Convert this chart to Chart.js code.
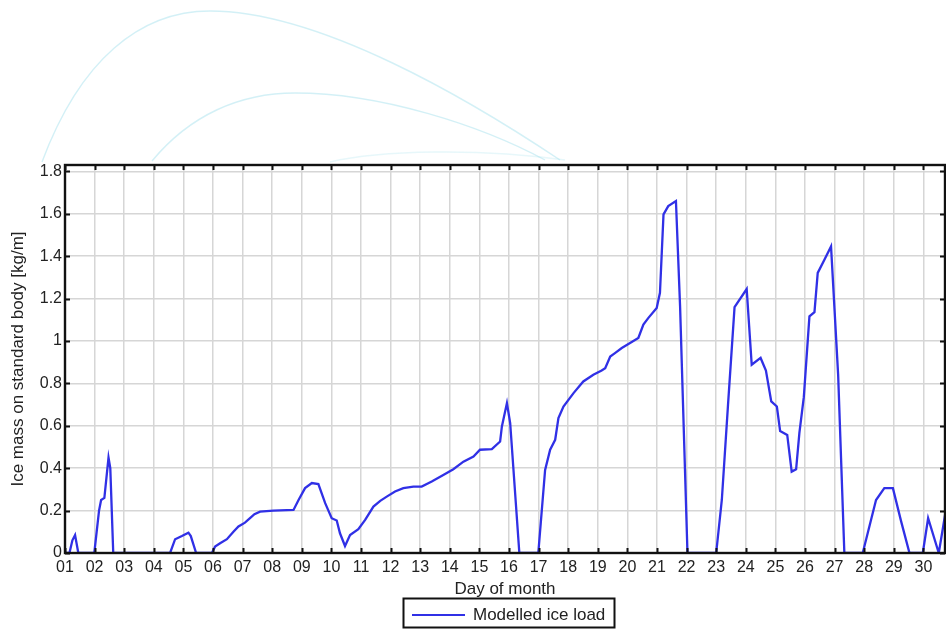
<!DOCTYPE html>
<html>
<head>
<meta charset="utf-8">
<script src="https://cdn.jsdelivr.net/npm/chart.js@4/dist/chart.umd.min.js"></script>
<style>
  html, body { margin: 0; padding: 0; background: #fff; }
  canvas { display: block; }
</style>
</head>
<body>
<canvas id="ice" width="946" height="629"></canvas>
<script>
// Modelled ice load on a standard body over one month (day of month, kg/m)
const dayOfMonth = [
  1.00, 1.15, 1.25, 1.34, 1.45, 1.99, 2.15, 2.22, 2.33, 2.47, 2.53, 2.63,
  4.55, 4.72, 4.95, 5.17, 5.25, 5.43, 5.96, 6.07, 6.24, 6.47, 6.69, 6.86,
  7.08, 7.25, 7.40, 7.59, 8.04, 8.72, 8.89, 9.11, 9.34, 9.56, 9.79, 10.01,
  10.18, 10.29, 10.46, 10.63, 10.91, 11.14, 11.42, 11.65, 11.87, 12.15, 12.43, 12.77,
  13.05, 13.39, 13.78, 14.12, 14.46, 14.80, 15.02, 15.42, 15.70, 15.76, 15.93, 16.04,
  16.35, 16.99, 17.22, 17.39, 17.56, 17.67, 17.84, 18.18, 18.51, 18.85, 19.13, 19.25,
  19.42, 19.58, 19.81, 20.09, 20.37, 20.54, 20.71, 20.99, 21.10, 21.22, 21.38, 21.64,
  21.78, 22.03, 23.00, 23.19, 23.40, 23.62, 24.03, 24.20, 24.50, 24.68, 24.86, 25.05,
  25.16, 25.40, 25.55, 25.70, 25.81, 25.96, 26.15, 26.32, 26.43, 26.66, 26.88, 27.12,
  27.33, 27.95, 28.40, 28.68, 28.97, 29.25, 29.53, 29.98, 30.16, 30.52, 30.78
];
const iceLoad = [
  0, 0, 0.06, 0.085, 0, 0, 0.20, 0.25, 0.26, 0.45, 0.40, 0,
  0, 0.065, 0.08, 0.096, 0.08, 0, 0, 0.03, 0.046, 0.065, 0.10, 0.125,
  0.143, 0.164, 0.183, 0.195, 0.20, 0.203, 0.25, 0.306, 0.33, 0.325, 0.235, 0.164,
  0.153, 0.093, 0.033, 0.085, 0.112, 0.156, 0.219, 0.246, 0.266, 0.29, 0.306, 0.313,
  0.313, 0.337, 0.368, 0.395, 0.431, 0.455, 0.487, 0.49, 0.526, 0.597, 0.707, 0.613,
  0, 0, 0.392, 0.487, 0.534, 0.636, 0.691, 0.754, 0.809, 0.841, 0.861, 0.872,
  0.927, 0.943, 0.967, 0.99, 1.014, 1.077, 1.109, 1.156, 1.227, 1.597, 1.636, 1.66,
  1.163, 0, 0, 0.25, 0.70, 1.16, 1.245, 0.888, 0.92, 0.86, 0.715, 0.691,
  0.575, 0.557, 0.384, 0.395, 0.565, 0.735, 1.116, 1.136, 1.321, 1.384, 1.446, 0.84,
  0, 0, 0.25, 0.306, 0.306, 0.148, 0, 0, 0.164, 0, 0.22
];
const yTicks = [0, 0.2, 0.4, 0.6, 0.8, 1, 1.2, 1.4, 1.6, 1.8];
const seriesName = 'Modelled ice load';

const points = dayOfMonth.map((d, i) => ({ x: d, y: iceLoad[i] }));

const FONT = 'Liberation Sans, Arial, Helvetica, sans-serif';
const TEXT = '#222';
const LINE = 'rgb(48,48,230)';

// faint decorative arcs above the plot frame
const arcs = {
  id: 'arcs',
  beforeDraw(chart) {
    const c = chart.ctx;
    c.save();
    c.lineWidth = 1.4;
    c.strokeStyle = 'rgba(175,228,238,0.55)';
    c.beginPath();
    c.moveTo(42, 162);
    c.bezierCurveTo(80, 60, 140, 11, 210, 11);
    c.bezierCurveTo(320, 11, 470, 100, 560, 160);
    c.stroke();
    c.beginPath();
    c.moveTo(152, 161);
    c.bezierCurveTo(190, 115, 240, 93, 295, 93);
    c.bezierCurveTo(380, 93, 480, 125, 545, 160);
    c.stroke();
    c.strokeStyle = 'rgba(175,228,238,0.3)';
    c.beginPath();
    c.moveTo(330, 162);
    c.bezierCurveTo(380, 150, 480, 148, 565, 160);
    c.stroke();
    c.restore();
  }
};

// axes box with inward tick marks on all four sides
const frame = {
  id: 'frame',
  afterDatasetsDraw(chart) {
    const c = chart.ctx;
    const a = chart.chartArea;
    const xs = chart.scales.x, ys = chart.scales.y;
    const len = 5;
    c.save();
    c.strokeStyle = '#111';
    c.lineWidth = 2;
    c.beginPath();
    xs.ticks.forEach(t => {
      const px = Math.round(xs.getPixelForValue(t.value)) + 0.5;
      c.moveTo(px, a.bottom); c.lineTo(px, a.bottom - len);
      c.moveTo(px, a.top); c.lineTo(px, a.top + len);
    });
    ys.ticks.forEach(t => {
      const py = Math.round(ys.getPixelForValue(t.value)) + 0.5;
      c.moveTo(a.left, py); c.lineTo(a.left + len, py);
      c.moveTo(a.right, py); c.lineTo(a.right - len, py);
    });
    c.stroke();
    c.lineWidth = 2.4;
    c.strokeRect(a.left, a.top, a.right - a.left, a.bottom - a.top);
    c.restore();
  }
};

// boxed legend under the axis title
const boxedLegend = {
  id: 'boxedLegend',
  afterDraw(chart) {
    const c = chart.ctx;
    const ds = chart.data.datasets[0];
    c.save();
    c.strokeStyle = '#111';
    c.lineWidth = 2;
    c.strokeRect(403.5, 598.5, 211, 29);
    c.strokeStyle = ds.borderColor;
    c.lineWidth = 2.2;
    c.beginPath();
    c.moveTo(412, 615);
    c.lineTo(465, 615);
    c.stroke();
    c.fillStyle = TEXT;
    c.font = '17px ' + FONT;
    c.textBaseline = 'middle';
    c.fillText(ds.label, 473, 615);
    c.restore();
  }
};

new Chart(document.getElementById('ice'), {
  type: 'line',
  data: {
    datasets: [{
      label: seriesName,
      data: points,
      borderColor: LINE,
      backgroundColor: LINE,
      borderWidth: 2.3,
      pointRadius: 0,
      tension: 0,
      fill: false
    }]
  },
  options: {
    responsive: false,
    animation: false,
    devicePixelRatio: 1,
    layout: { padding: { top: 165, right: 1, left: 0, bottom: 0 } },
    plugins: { legend: { display: false }, tooltip: { enabled: false } },
    scales: {
      x: {
        type: 'linear',
        min: 1,
        max: 30.73,
        afterFit(s) { s.height = 76; },
        border: { display: false },
        grid: { color: '#d6d6d6', lineWidth: 1.5, drawTicks: false },
        ticks: {
          stepSize: 1,
          includeBounds: false,
          autoSkip: false,
          maxRotation: 0,
          padding: 5,
          color: TEXT,
          font: { family: FONT, size: 16 },
          callback: v => String(v).padStart(2, '0')
        },
        title: {
          display: true,
          text: 'Day of month',
          color: TEXT,
          font: { family: FONT, size: 17 },
          padding: { top: 0, bottom: 29 }
        }
      },
      y: {
        type: 'linear',
        min: 0,
        max: 1.83,
        afterFit(s) { s.width = 65; },
        afterBuildTicks(s) { s.ticks = yTicks.map(v => ({ value: v })); },
        border: { display: false },
        grid: { color: '#d6d6d6', lineWidth: 1.5, drawTicks: false },
        ticks: {
          includeBounds: false,
          padding: 3,
          color: TEXT,
          font: { family: FONT, size: 16 },
          callback: v => String(v)
        },
        title: {
          display: true,
          text: 'Ice mass on standard body [kg/m]',
          color: TEXT,
          font: { family: FONT, size: 17 },
          padding: { top: 8, bottom: 0 }
        }
      }
    }
  },
  plugins: [arcs, frame, boxedLegend]
});
</script>
</body>
</html>
